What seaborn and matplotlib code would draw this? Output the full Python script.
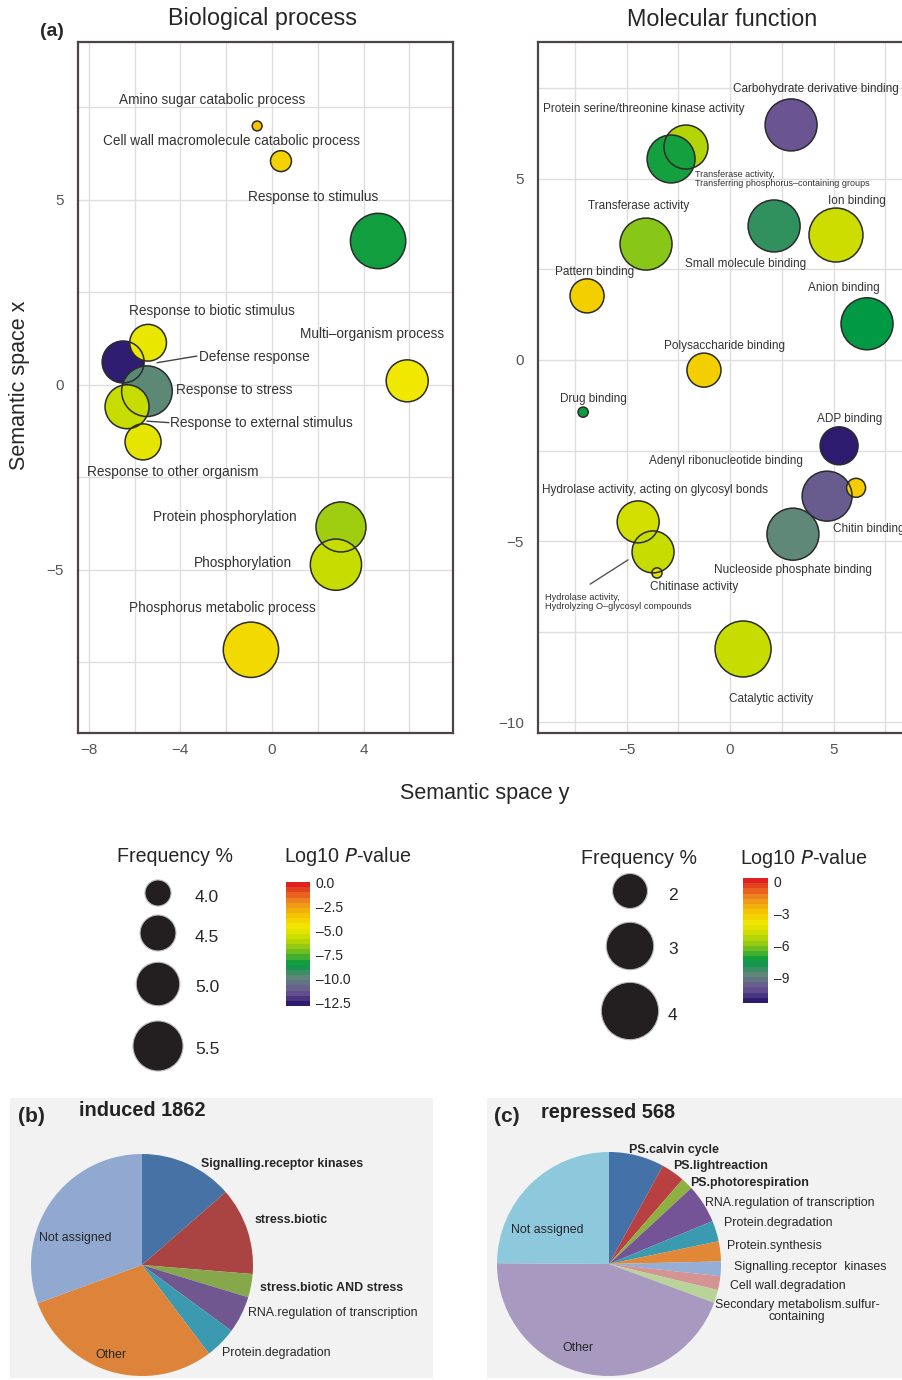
import matplotlib
matplotlib.use("Agg")
import matplotlib as mpl
import matplotlib.pyplot as plt
from matplotlib.colors import LinearSegmentedColormap, Normalize
import numpy as np
import pandas as pd
import seaborn as sns

sns.set_style("white")
plt.rcParams['font.family'] = ['Liberation Sans', 'DejaVu Sans']

W, H = 902, 1380  # tamaño de la figura en píxeles (dpi 100)

# DATOS (a): proceso biológico (orden = orden de dibujo)
bp_terms = ["Amino sugar catabolic process", "Cell wall macromolecule catabolic process",
            "Response to stimulus", "Defense response", "Response to stress",
            "Response to biotic stimulus", "Response to external stimulus",
            "Response to other organism", "Multi\u2013organism process",
            "Protein phosphorylation", "Phosphorylation", "Phosphorus metabolic process"]
bp_x = [-0.65, 0.39, 4.63, -6.50, -5.46, -5.41, -6.33, -5.63, 5.90, 3.01, 2.79, -0.92]
bp_y = [7.00, 6.05, 3.89, 0.62, -0.17, 1.14, -0.59, -1.54, 0.11, -3.84, -4.86, -7.16]
bp_freq = [3.52, 3.80, 5.96, 4.89, 5.55, 4.55, 5.03, 4.51, 4.89, 5.50, 5.60, 5.96]
bp_logp = [-3.3, -3.8, -8.4, -12.8, -10.0, -4.8, -5.75, -4.9, -4.6, -6.5, -5.75, -4.1]

# DATOS (a): función molecular
mf_terms = ["Carbohydrate derivative binding", "Protein serine/threonine kinase activity",
            "Transferase activity, transferring P groups", "Transferase activity",
            "Small molecule binding", "Ion binding", "Pattern binding", "Anion binding",
            "Polysaccharide binding", "Drug binding", "ADP binding",
            "Nucleoside phosphate binding", "Adenyl ribonucleotide binding", "Chitin binding",
            "Hydrolase activity, acting on glycosyl bonds",
            "Hydrolase activity, hydrolyzing O-glycosyl compounds", "Chitinase activity",
            "Catalytic activity"]
mf_x = [2.95, -2.13, -2.85, -4.06, 2.13, 5.12, -6.91, 6.62, -1.26, -7.10, 5.27,
        3.04, 4.69, 6.09, -4.44, -3.72, -3.53, 0.63]
mf_y = [6.49, 5.88, 5.55, 3.20, 3.70, 3.45, 1.77, 1.00, -0.28, -1.44, -2.37,
        -4.81, -3.76, -3.53, -4.47, -5.30, -5.88, -7.98]
mf_freq = [3.43, 2.69, 3.04, 3.43, 3.43, 3.63, 1.94, 3.43, 1.94, 0.92, 2.21,
           3.43, 3.23, 1.17, 2.52, 2.52, 0.92, 3.85]
mf_logp = [-10.2, -5.3, -7.3, -6.0, -8.2, -4.85, -3.1, -7.55, -3.1, -7.4, -11.4,
           -8.8, -10.0, -3.0, -4.7, -5.0, -4.15, -5.0]

# leyendas de tamaño / color
bp_leg_freq = [4.0, 4.5, 5.0, 5.5]
mf_leg_freq = [2, 3, 4]
bp_cbar_ticks = [0.0, -2.5, -5.0, -7.5, -10.0, -12.5]
mf_cbar_ticks = [0, -3, -6, -9]

# DATOS (b) y (c): tortas
ind_labels = ["Signalling.receptor kinases", "stress.biotic", "stress.biotic AND stress",
              "RNA.regulation of transcription", "Protein.degradation", "Other", "Not assigned"]
ind_values = [13.6, 12.7, 3.4, 5.4, 4.6, 29.7, 30.6]
rep_labels = ["PS.calvin cycle", "PS.lightreaction", "PS.photorespiration",
              "RNA.regulation of transcription", "Protein.degradation", "Protein.synthesis",
              "Signalling.receptor  kinases", "Cell wall.degradation",
              "Secondary metabolism.sulfur-\ncontaining", "Other", "Not assigned"]
rep_values = [8.0, 3.4, 1.75, 5.6, 3.0, 2.9, 2.1, 2.0, 1.9, 44.5, 24.9]

ind_colors = ["#4672a6", "#a94442", "#87a84a", "#71578f", "#3c9ab0", "#dd843a", "#91a9d0"]
rep_colors = ["#4472a8", "#b84040", "#8db040", "#745496", "#3a9ab0", "#e08838",
              "#94aed6", "#d49494", "#b8d498", "#a899c0", "#8ec8dc"]

# escala de color tipo REVIGO
pval_cmap = LinearSegmentedColormap.from_list("revigo", [
    (0.00, "#2d1b70"), (0.10, "#6a5492"), (0.22, "#5f8878"), (0.33, "#009944"),
    (0.45, "#7fc31c"), (0.55, "#c8dc00"), (0.64, "#f0e800"), (0.74, "#f5c400"),
    (0.86, "#ee8a20"), (1.00, "#e02020")])

fig = plt.figure(figsize=(W / 100, H / 100), dpi=100)


def px_axes(x0, y0, x1, y1):
    return fig.add_axes([x0 / W, 1 - y1 / H, (x1 - x0) / W, (y1 - y0) / H])


# área del marcador (pt^2) lineal con la frecuencia
BP_NORM = (3.44, 6.0)
MF_NORM = (0.82, 4.0)


def bp_area(f):
    return 630.0 * (f - 3.44)


def mf_area(f):
    return 537.0 * (f - 0.82)


def bubble_panel(ax, df, area, size_norm, hue_norm):
    sizes = (area(size_norm[0]), area(size_norm[1]))
    sns.scatterplot(data=df, x="x", y="y", hue="logp", palette=pval_cmap, hue_norm=hue_norm,
                    size="freq", sizes=sizes, size_norm=size_norm, linewidth=0,
                    legend=False, ax=ax, zorder=3)
    sns.scatterplot(data=df, x="x", y="y", size="freq", sizes=sizes, size_norm=size_norm,
                    facecolors="none", edgecolor="#2b2b2b", linewidth=1.1,
                    legend=False, ax=ax, zorder=4)
    ax.grid(which="both", color="#e2dddd", linewidth=1.0, zorder=0)
    ax.set_axisbelow(True)
    for s in ax.spines.values():
        s.set_color("#4d4545")
        s.set_linewidth(1.6)
    ax.tick_params(which="major", length=3, color="#4d4545", labelsize=11,
                   labelcolor="#555555", pad=4)
    ax.tick_params(axis="y", which="major", pad=7)
    ax.tick_params(which="minor", length=0)
    ax.set_xlabel("")
    ax.set_ylabel("")


# PANEL (a) izquierdo
bp_df = pd.DataFrame({"x": bp_x, "y": bp_y, "freq": bp_freq, "logp": bp_logp})
ax1 = px_axes(78, 42, 453, 733)
bubble_panel(ax1, bp_df, bp_area, BP_NORM, (-12.9, 0.1))
ax1.set_xlim(-8.47, 7.90)
ax1.set_ylim(-9.41, 9.27)
ax1.set_xticks([-8, -4, 0, 4])
ax1.set_xticks([-6, -2, 2, 6], minor=True)
ax1.set_yticks([-5, 0, 5])
ax1.set_yticks([-7.5, -2.5, 2.5, 7.5], minor=True)

bp_text = [  # (x, y, ha)
    (-2.62, 7.70, "center"), (-1.79, 6.59, "center"), (1.79, 5.08, "center"),
    (-3.19, 0.76, "left"), (-4.19, -0.14, "left"), (-2.62, 2.00, "center"),
    (-4.45, -1.02, "left"), (-4.32, -2.35, "center"), (4.37, 1.38, "center"),
    (-2.05, -3.57, "center"), (-1.27, -4.81, "center"), (-2.18, -6.03, "center")]
for term, (tx, ty, ha) in zip(bp_terms, bp_text):
    ax1.text(tx, ty, term, ha=ha, va="center", fontsize=9.8, color="#333333", zorder=5)
ax1.plot([-5.02, -3.28], [0.60, 0.78], color="#444444", lw=1.0, zorder=5)
ax1.plot([-5.46, -4.50], [-0.98, -1.02], color="#444444", lw=1.0, zorder=5)

# PANEL (a) derecho
mf_df = pd.DataFrame({"x": mf_x, "y": mf_y, "freq": mf_freq, "logp": mf_logp})
ax2 = px_axes(538, 42, 902, 733)
bubble_panel(ax2, mf_df, mf_area, MF_NORM, (-11.4, 0.3))
ax2.spines["right"].set_visible(False)
ax2.set_xlim(-9.28, 8.31)
ax2.set_ylim(-10.30, 8.78)
ax2.set_xticks([-5, 0, 5])
ax2.set_xticks([-7.5, -2.5, 2.5, 7.5], minor=True)
ax2.set_yticks([-10, -5, 0, 5])
ax2.set_yticks([-7.5, -2.5, 2.5, 7.5], minor=True)

mf_text = [  # (texto, x, y, ha, tamaño)
    ("Carbohydrate derivative binding", 4.15, 7.49, "center", 8.5),
    ("Protein serine/threonine kinase activity", -4.15, 6.93, "center", 8.5),
    ("Transferase activity,\nTransferring phosphorus\u2013containing groups", -1.69, 5.0, "left", 6.5),
    ("Transferase activity", -4.44, 4.25, "center", 8.5),
    ("Small molecule binding", 0.77, 2.65, "center", 8.5),
    ("Ion binding", 6.13, 4.39, "center", 8.5),
    ("Pattern binding", -6.57, 2.43, "center", 8.5),
    ("Anion binding", 5.51, 1.99, "center", 8.5),
    ("Polysaccharide binding", -0.29, 0.39, "center", 8.5),
    ("Drug binding", -6.62, -1.08, "center", 8.5),
    ("ADP binding", 5.80, -1.63, "center", 8.5),
    ("Nucleoside phosphate binding", 3.04, -5.80, "center", 8.5),
    ("Adenyl ribonucleotide binding", -0.19, -2.79, "center", 8.5),
    ("Chitin binding", 4.98, -4.67, "left", 8.5),
    ("Hydrolase activity, acting on glycosyl bonds", -3.62, -3.59, "center", 8.5),
    ("Hydrolase activity,\nHydrolyzing O\u2013glycosyl compounds", -8.94, -6.68, "left", 6.7),
    ("Chitinase activity", -1.74, -6.26, "center", 8.5),
    ("Catalytic activity", 1.98, -9.36, "center", 8.5)]
for txt, tx, ty, ha, fs in mf_text:
    ax2.text(tx, ty, txt, ha=ha, va="center", fontsize=fs, color="#333333",
             linespacing=1.0, zorder=5)
ax2.plot([-4.93, -6.76], [-5.52, -6.19], color="#555555", lw=1.0, zorder=5)

# capa de texto / leyendas en coordenadas de píxel
ov = fig.add_axes([0, 0, 1, 1])

# leyenda de frecuencia (tamaños iguales a los paneles)
for leg_freq, area, norm, cx, ys, lx, fmt in [
        (bp_leg_freq, bp_area, BP_NORM, 158, [893, 933, 984, 1046], 195, "{:.1f}"),
        (mf_leg_freq, mf_area, MF_NORM, 630, [891, 946, 1011], 668, "{:d}")]:
    ldf = pd.DataFrame({"x": [cx] * len(leg_freq), "y": ys, "freq": leg_freq})
    sns.scatterplot(data=ldf, x="x", y="y", size="freq",
                    sizes=(area(norm[0]), area(norm[1])), size_norm=norm,
                    color="#231f20", edgecolor="#bbbbbb", linewidth=0.8,
                    legend=False, ax=ov)
    for f, y in zip(leg_freq, ys):
        ov.text(lx, y + 4, fmt.format(f), fontsize=12.5, ha="left", va="center")
ov.set_xlim(0, W)
ov.set_ylim(H, 0)
ov.axis("off")

ov.text(52, 31, "(a)", fontsize=14, fontweight="bold", ha="center", va="center")
ov.text(262, 19, "Biological process", fontsize=16.8, ha="center", va="center")
ov.text(722, 19, "Molecular function", fontsize=16.8, ha="center", va="center")
ov.text(485, 794, "Semantic space y", fontsize=15.5, ha="center", va="center")
ov.text(20, 385, "Semantic space x", fontsize=15.5, ha="center", va="center", rotation=90)
ov.text(175, 857, "Frequency %", fontsize=14.1, ha="center", va="center")
ov.text(639, 858, "Frequency %", fontsize=14.1, ha="center", va="center")
ov.text(348, 857, "Log10 $\\it{P}$-value", fontsize=14.2, ha="center", va="center")
ov.text(804, 858, "Log10 $\\it{P}$-value", fontsize=14.2, ha="center", va="center")

# barras de color
for box, lims, ticks, fmt in [((286, 882, 310, 1006), (-12.9, 0.1), bp_cbar_ticks, "{:.1f}"),
                              ((743, 878, 768, 1003), (-11.4, 0.3), mf_cbar_ticks, "{:d}")]:
    cax = px_axes(*box)
    sm = mpl.cm.ScalarMappable(norm=Normalize(*lims), cmap=pval_cmap.resampled(24))
    cb = fig.colorbar(sm, cax=cax)
    cb.outline.set_visible(False)
    cb.set_ticks(ticks)
    cb.set_ticklabels([fmt.format(t).replace("-", "\u2013") for t in ticks])
    cax.tick_params(axis="y", direction="in", length=5, width=1, color="white",
                    left=True, right=True, labelsize=10, pad=4)


# PANELES (b) y (c): tortas
def pie_panel(box, center, radius, values, colors):
    ax = px_axes(*box)
    ax.pie(values, colors=colors, startangle=90, counterclock=False, radius=1,
           wedgeprops=dict(linewidth=0))
    x0, y0, x1, y1 = box
    cx, cy = center
    ax.set_frame_on(True)
    for s in ax.spines.values():
        s.set_visible(False)
    ax.set_facecolor("#f2f2f2")
    ax.set_xticks([])
    ax.set_yticks([])
    ax.set_aspect("auto")
    ax.set_xlim((x0 - cx) / radius, (x1 - cx) / radius)
    ax.set_ylim((cy - y1) / radius, (cy - y0) / radius)
    return ax


pie_panel((10, 1098, 433, 1378), (142, 1265), 111, ind_values, ind_colors)
pie_panel((487, 1098, 902, 1378), (609, 1264), 112, rep_values, rep_colors)

ind_pos = [(201, 1164, "left", True), (255, 1220, "left", True), (260, 1288, "left", True),
           (248, 1313, "left", False), (222, 1353, "left", False),
           (111, 1355, "center", False), (75, 1238, "center", False)]
rep_pos = [(629, 1150, "left", True), (673, 1166, "left", True), (690, 1183, "left", True),
           (705, 1203, "left", False), (724, 1223, "left", False), (727, 1246, "left", False),
           (734, 1267, "left", False), (730, 1286, "left", False), (797, 1311, "center", False),
           (578, 1348, "center", False), (547, 1230, "center", False)]

ov2 = fig.add_axes([0, 0, 1, 1])
ov2.set_xlim(0, W)
ov2.set_ylim(H, 0)
ov2.axis("off")
for labels, pos in [(ind_labels, ind_pos), (rep_labels, rep_pos)]:
    for lab, (x, y, ha, bold) in zip(labels, pos):
        ov2.text(x, y, lab, ha=ha, va="center", fontsize=8.9, color="#262626",
                 fontweight="bold" if bold else "normal", linespacing=1.1)

ov2.text(31, 1117, "(b)", fontsize=15, fontweight="bold", ha="center", va="center")
ov2.text(79, 1111, "induced 1862", fontsize=14.4, fontweight="bold", ha="left", va="center",
         color="#222222")
ov2.text(507, 1117, "(c)", fontsize=15, fontweight="bold", ha="center", va="center")
ov2.text(541, 1112, "repressed 568", fontsize=14.4, fontweight="bold", ha="left", va="center",
         color="#222222")

fig.savefig("out.png", dpi=100)
